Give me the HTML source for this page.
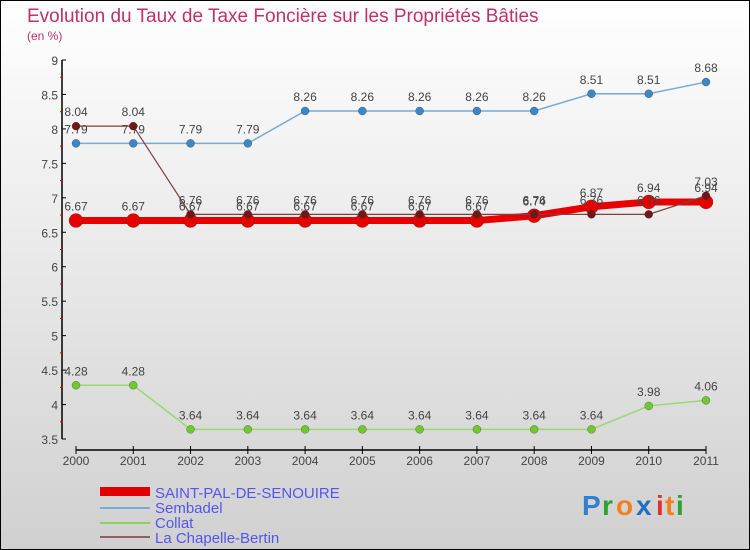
<!DOCTYPE html>
<html><head><meta charset="utf-8"><style>
body{margin:0;}
#c{width:750px;height:550px;position:relative;overflow:hidden;}
svg text{font-family:"Liberation Sans",sans-serif;}
</style></head><body>
<div id="c">
<svg id="s" width="750" height="550" xmlns="http://www.w3.org/2000/svg">
<defs><linearGradient id="bg" x1="0" y1="0" x2="0" y2="1"><stop offset="0" stop-color="#ffffff"/><stop offset="1" stop-color="#d0d0d0"/></linearGradient></defs>
<rect x="0.5" y="0.5" width="749" height="549" fill="url(#bg)" stroke="#000"/>
<text x="27" y="22" font-size="19" fill="#c0306a">Evolution du Taux de Taxe Foncière sur les Propriétés Bâties</text>
<text x="27" y="40" font-size="12" fill="#c0306a">(en %)</text>
<g id="axes"></g><g id="series"></g>
<g>
<rect x="100" y="487" width="50" height="9" fill="#e00000"/>
<text x="155" y="498" font-size="15" fill="#5555ee">SAINT-PAL-DE-SENOUIRE</text>
<rect x="100" y="507" width="50" height="2" fill="#7aaad0"/>
<text x="155" y="513" font-size="15" fill="#5555ee">Sembadel</text>
<rect x="100" y="522" width="50" height="2" fill="#8cd060"/>
<text x="155" y="528" font-size="15" fill="#5555ee">Collat</text>
<rect x="100" y="536" width="50" height="2" fill="#906060"/>
<text x="155" y="543" font-size="15" fill="#5555ee">La Chapelle-Bertin</text>
</g>
<g font-size="28" font-weight="bold">
<text x="582" y="515" fill="#3080d0">P</text><text x="602" y="515" fill="#30a030">r</text><text x="616" y="515" fill="#f08020">o</text><text x="636" y="515" fill="#2070c0">x</text><text x="656" y="515" fill="#e03030">i</text><text x="665" y="515" fill="#f08020">t</text><text x="676" y="515" fill="#30a030">i</text>
</g>
</svg></div>
<script>
const years=[2000,2001,2002,2003,2004,2005,2006,2007,2008,2009,2010,2011];
const yTicks=[3.5,4,4.5,5,5.5,6,6.5,7,7.5,8,8.5,9];
const saintPal=[6.67,6.67,6.67,6.67,6.67,6.67,6.67,6.67,6.74,6.87,6.94,6.94];
const sembadel=[7.79,7.79,7.79,7.79,8.26,8.26,8.26,8.26,8.26,8.51,8.51,8.68];
const collat=[4.28,4.28,3.64,3.64,3.64,3.64,3.64,3.64,3.64,3.64,3.98,4.06];
const chapelle=[8.04,8.04,6.76,6.76,6.76,6.76,6.76,6.76,6.76,6.76,6.76,7.03];
const NS="http://www.w3.org/2000/svg";
const X=i=>76+i*(630/11);
const Y=v=>439-(v-3.5)*(379/5.5);
function mk(t,a,p){const e=document.createElementNS(NS,t);for(const k in a)e.setAttribute(k,a[k]);p.appendChild(e);return e;}
const ax=document.getElementById('axes');
let yl=mk('line',{x1:62,y1:60,x2:62,y2:439,stroke:'#000','stroke-width':1.5},ax);


yTicks.forEach(v=>{
 mk('line',{x1:62,y1:Y(v),x2:66,y2:Y(v),stroke:'#000'},ax);
 if(v<9)mk('line',{x1:60,y1:Y(v+0.25),x2:63,y2:Y(v+0.25),stroke:'#e00000'},ax);
 const t=mk('text',{x:58,y:Y(v)+5,'font-size':12,fill:'#444','text-anchor':'end'},ax);t.textContent=v;
 
 
});
let xl=mk('line',{x1:76,y1:450,x2:706,y2:450,stroke:'#000','stroke-width':1.5},ax);


years.forEach((y,i)=>{
 mk('line',{x1:X(i),y1:446,x2:X(i),y2:454,stroke:'#000'},ax);
 const t=mk('text',{x:X(i),y:465,'font-size':12,fill:'#444','text-anchor':'middle'},ax);t.textContent=y;
 
 
});
const sg=document.getElementById('series');
function series(vals,name,col,dot,w,r,lab){
 const g=mk('g',{},sg);
 
 
 mk('polyline',{points:vals.map((v,i)=>X(i)+','+Y(v)).join(' '),fill:'none',stroke:col,'stroke-width':w},g);
 vals.forEach((v,i)=>{
  const c=mk('circle',{cx:X(i),cy:Y(v),r:r,fill:dot,stroke:'#333','stroke-width':0.3},g);
  
  
  const t=mk('text',{x:X(i),y:Y(v)-10,'font-size':12,fill:'#444','text-anchor':'middle'},g);t.textContent=String(v);
 });
}
series(sembadel,'sembadel','#7aaad0','#3a88c8',1.5,4);
series(collat,'collat','#9ad870','#70c830',1.5,4);
series(saintPal,'saint-pal','#e80000','#e80000',7,7);
series(chapelle,'la-chapelle-bertin','#804040','#701818',1.2,4);
</script>
</body></html>
